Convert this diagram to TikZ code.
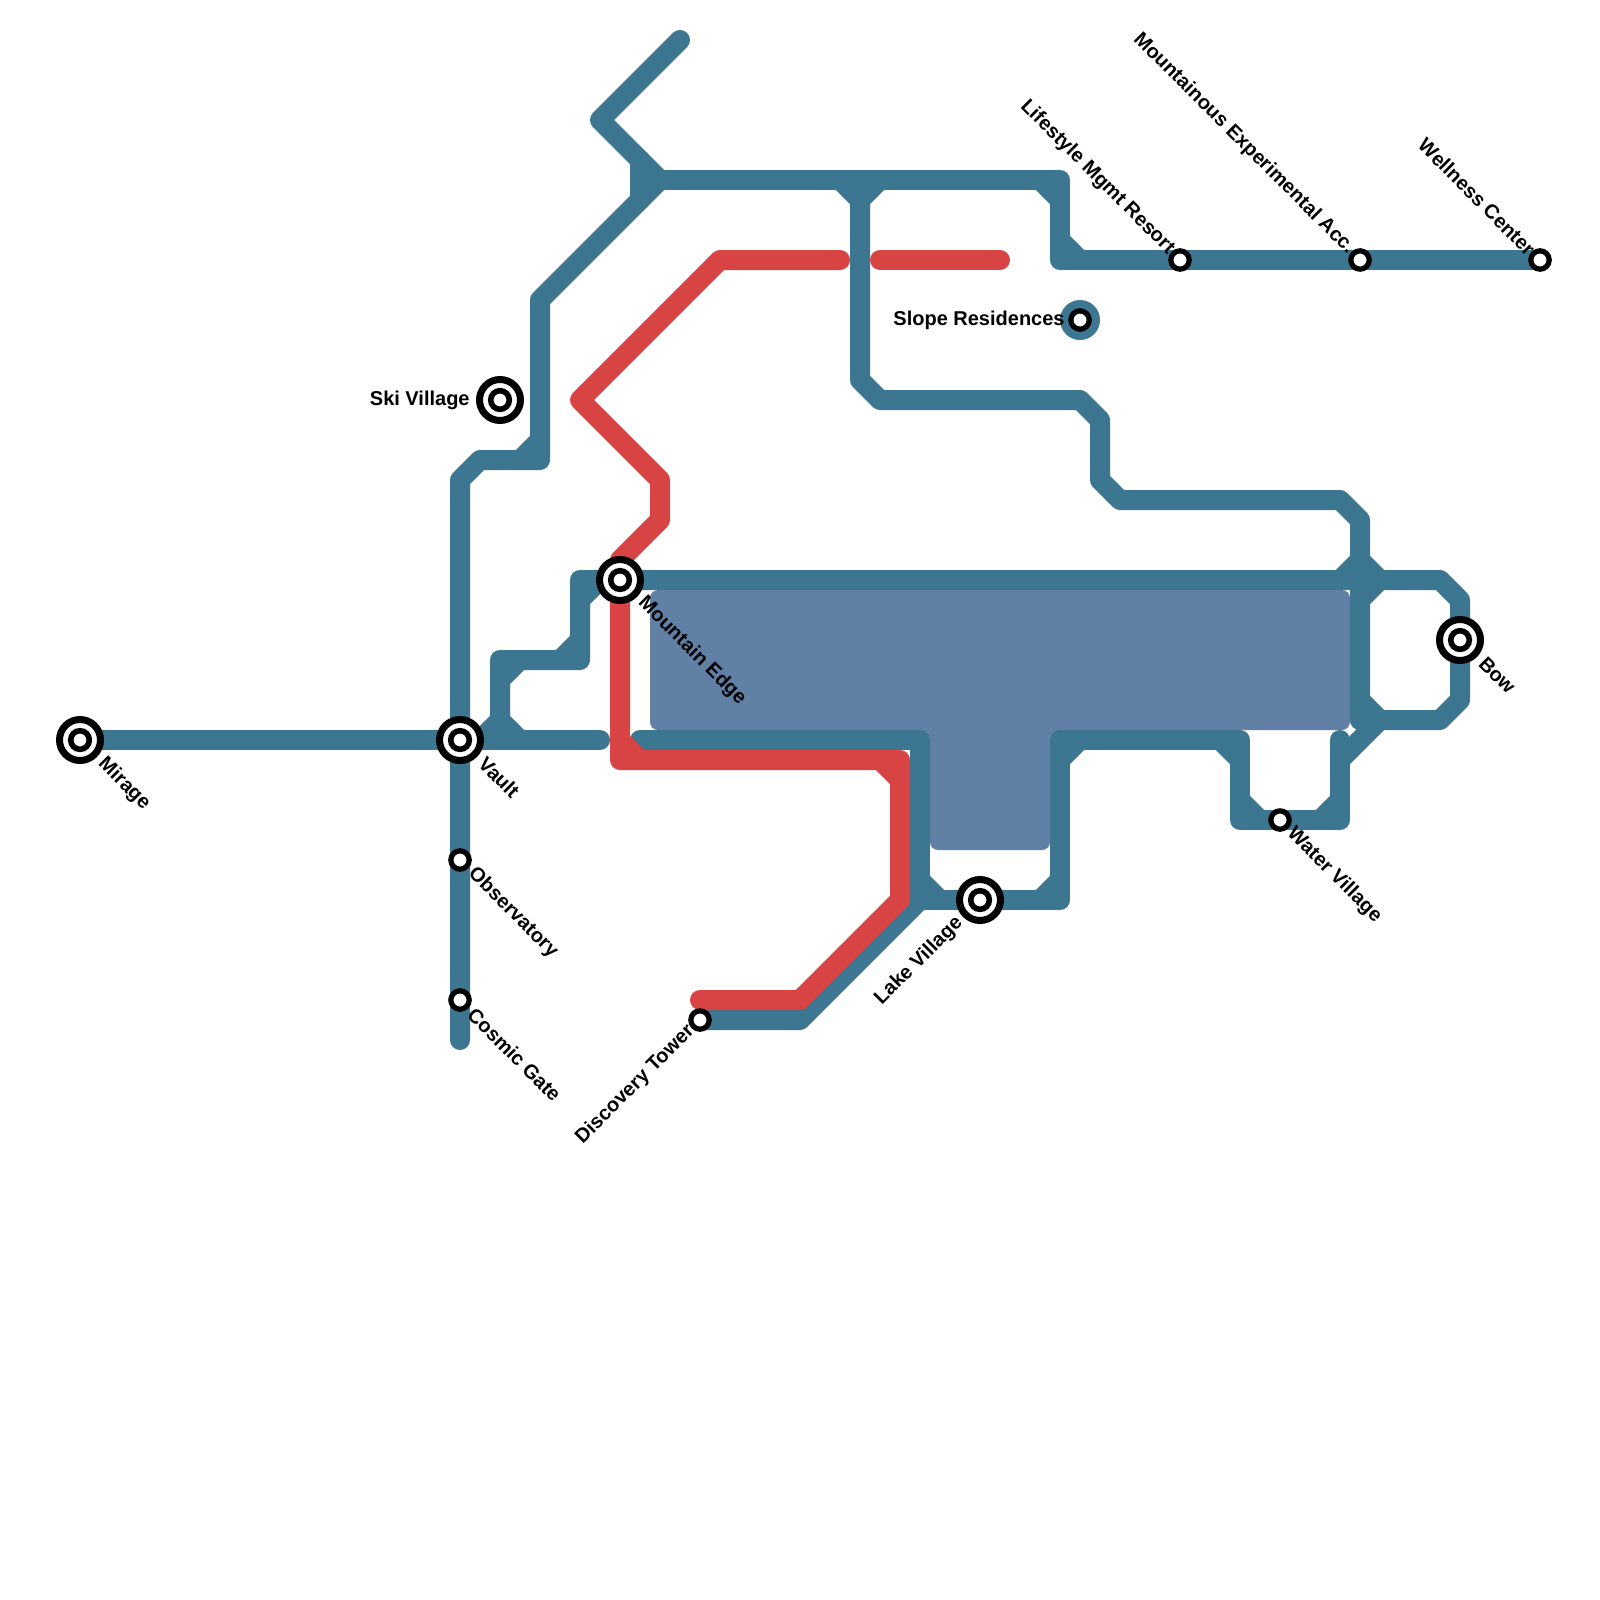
\documentclass[tikz,border=0pt]{standalone}
\usepackage{fontspec}
\usetikzlibrary{calc}
\setmainfont{Liberation Sans}[BoldFont={Liberation Sans Bold}]
\definecolor{lineblue}{HTML}{3C7691}
\definecolor{linered}{HTML}{D84444}
\definecolor{blockblue}{HTML}{6080A5}
\tikzset{
  bluepath/.style={draw=lineblue,line width=10pt,line cap=round,line join=round},
  redpath/.style={draw=linered,line width=10pt,line cap=round,line join=round},
  blockfill/.style={fill=blockblue,rounded corners=4pt},
  bigring/.style={circle,draw=black,fill=white,line width=3.5pt,minimum size=20.5pt,inner sep=0pt},
  bigcore/.style={circle,draw=black,fill=white,line width=2.8pt,minimum size=9.3pt,inner sep=0pt},
  smallring/.style={circle,draw=black,fill=white,line width=2.6pt,minimum size=9.2pt,inner sep=0pt},
  halo/.style={circle,fill=lineblue,minimum size=20pt,inner sep=0pt},
  lbl/.style={font=\bfseries\fontsize{10pt}{12pt}\selectfont,text=black,inner sep=0pt},
  lbldown/.style={lbl,rotate=-45,anchor=west},
  lblup/.style={lbl,rotate=45,anchor=east},
  lblinto/.style={lbl,rotate=-45,anchor=east},
  lblleft/.style={lbl,anchor=east}
}
\begin{document}
\begin{tikzpicture}[x=10pt,y=-10pt]
\useasboundingbox (0,0) rectangle (80,80);
% station positions
\coordinate (mirage) at (4,37);
\coordinate (vault) at (23,37);
\coordinate (ski) at (25,20);
\coordinate (edge) at (31,29);
\coordinate (lake) at (49,45);
\coordinate (bow) at (73,32);
\coordinate (obs) at (23,43);
\coordinate (cosmic) at (23,50);
\coordinate (water) at (64,41);
\coordinate (disc) at (35,51);
\coordinate (slope) at (54,16);
\coordinate (life) at (59,13);
\coordinate (mount) at (68,13);
\coordinate (well) at (77,13);
% water block
\fill[blockfill] (32.5,29.5) rectangle (67.5,36.5);
\fill[blockfill] (46.5,35) rectangle (52.5,42.5);
\fill[blockblue] (45.75,36.25) rectangle (53.25,37.25);
% blue network
\draw[bluepath] (mirage) -- (vault) -- (30,37);
\draw[bluepath] (23,52) -- (cosmic) -- (obs) -- (vault) -- (23,24) -- (24,23) -- (27,23) -- (27,15) -- (33,9) -- (30,6) -- (34,2);
\draw[bluepath] (26,23) -- (27,22);
\draw[bluepath] (32,8) -- (32,10);
\draw[bluepath] (33,9) -- (53,9) -- (53,13) -- (life) -- (mount) -- (well);
\draw[bluepath] (52,9) -- (53,10);
\draw[bluepath] (53,12) -- (54,13);
\draw[bluepath] (42,9) -- (43,10) -- (44,9);
\draw[bluepath] (43,9) -- (43,19) -- (44,20) -- (54,20) -- (55,21) -- (55,24) -- (56,25) -- (67,25) -- (68,26) -- (68,36);
\draw[bluepath] (25,37) -- (25,33) -- (29,33) -- (29,29) -- (edge) -- (72,29) -- (73,30) -- (bow) -- (73,35) -- (72,36) -- (68,36);
\draw[bluepath] (67,29) -- (68,28) -- (69,29) -- (68,30);
\draw[bluepath] (68,35) -- (69,36) -- (67,38);
\draw[bluepath] (28,33) -- (29,32);
\draw[bluepath] (25,34) -- (26,33);
\draw[bluepath] (29,30) -- (30,29);
\draw[bluepath] (24,37) -- (25,36) -- (26,37);
\draw[bluepath] (32,37) -- (46,37) -- (46,45) -- (lake) -- (53,45) -- (53,37) -- (62,37) -- (62,41) -- (water) -- (67,41) -- (67,37);
\draw[bluepath] (46,44) -- (47,45);
\draw[bluepath] (52,45) -- (53,44);
\draw[bluepath] (53,38) -- (54,37);
\draw[bluepath] (61,37) -- (62,38);
\draw[bluepath] (62,40) -- (63,41);
\draw[bluepath] (66,41) -- (67,40);
\draw[bluepath] (disc) -- (40,51) -- (46,45);
% red line
\draw[redpath] (35,50) -- (40,50) -- (45,45) -- (45,38) -- (31,38) -- (edge) -- (31,28) -- (33,26) -- (33,24) -- (29,20) -- (36,13) -- (42,13);
\draw[redpath] (31,37) -- (32,38);
\draw[redpath] (44,38) -- (45,39);
\draw[redpath] (44,13) -- (50,13);
% stations
\node[halo] (sloperim) at (slope) {};
\foreach \n in {mirage,vault,ski,edge,lake,bow}{
  \node[bigring] (\n ring) at (\n) {};
  \node[bigcore] (\n core) at (\n) {};
}
\foreach \n in {obs,cosmic,water,disc,slope,life,mount,well}{
  \node[smallring] (\n ring) at (\n) {};
}
% labels
\node[lbldown] (tmirage) at ($(mirage)+(1.05,1.05)$) {Mirage};
\node[lbldown] (tvault) at ($(vault)+(1.1,1.0)$) {Vault};
\node[lbldown] (tedge) at ($(edge)+(1.05,1.0)$) {Mountain Edge};
\node[lbldown] (tbow) at ($(bow)+(1.1,1.0)$) {Bow};
\node[lbldown] (tobs) at ($(obs)+(0.55,0.55)$) {Observatory};
\node[lbldown] (tcosmic) at ($(cosmic)+(0.55,0.55)$) {Cosmic Gate};
\node[lbldown] (twater) at ($(water)+(0.5,0.55)$) {Water Village};
\node[lblup] (tlake) at ($(lake)+(-1.0,1.0)$) {Lake Village};
\node[lblup] (tdisc) at ($(disc)+(-0.42,0.42)$) {Discovery Tower};
\node[lblinto] (tlife) at ($(life)+(-0.43,-0.43)$) {Lifestyle Mgmt Resort};
\node[lblinto] (tmount) at ($(mount)+(-0.43,-0.43)$) {Mountainous Experimental Acc.};
\node[lblinto] (twell) at ($(well)+(-0.4,-0.4)$) {Wellness Center};
\node[lblleft] (tski) at ($(ski)+(-1.5,0)$) {Ski Village};
\node[lblleft] (tslope) at ($(slope)+(-0.75,0)$) {Slope Residences};
\end{tikzpicture}
\end{document}
